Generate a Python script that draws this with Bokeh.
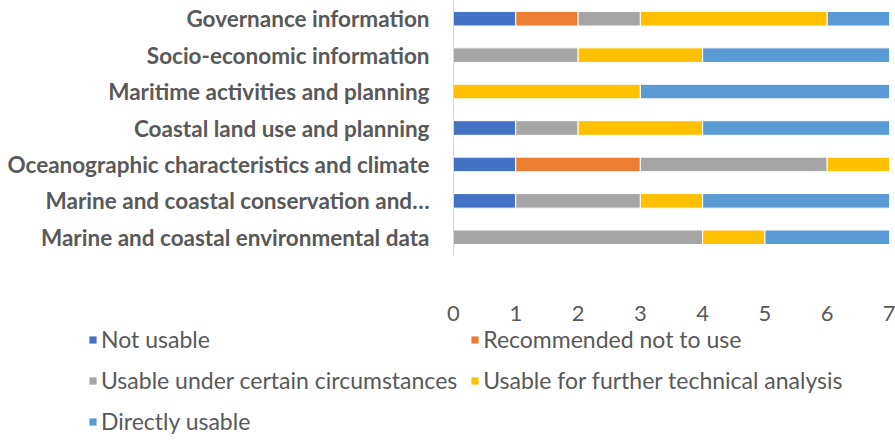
from bokeh.plotting import figure
from bokeh.layouts import column
from bokeh.models import Legend, LegendItem, FactorRange, ColumnDataSource, FixedTicker
from bokeh.embed import file_html
from bokeh.resources import INLINE

categories = [
    "Marine and coastal environmental data",
    "Marine and coastal conservation and…",
    "Oceanographic characteristics and climate",
    "Coastal land use and planning",
    "Maritime activities and planning",
    "Socio-economic information",
    "Governance information",
]
series = [
    "Not usable",
    "Recommended not to use",
    "Usable under certain circumstances",
    "Usable for further technical analysis",
    "Directly usable",
]
not_usable = [0, 1, 1, 1, 0, 0, 1]
recommended_not = [0, 0, 2, 0, 0, 0, 1]
usable_certain = [4, 2, 3, 1, 0, 2, 1]
usable_further = [1, 1, 1, 2, 3, 2, 3]
directly_usable = [2, 3, 0, 3, 4, 3, 1]
x_ticks = [0, 1, 2, 3, 4, 5, 6, 7]
colors = ["#4472C4", "#ED7D31", "#A5A5A5", "#FFC000", "#5B9BD5"]

source = ColumnDataSource(data={
    "cat": categories,
    series[0]: not_usable,
    series[1]: recommended_not,
    series[2]: usable_certain,
    series[3]: usable_further,
    series[4]: directly_usable,
})

FONT = "Lato"
TXT = "#595959"

# ---- main chart ----
p = figure(
    y_range=FactorRange(factors=categories, range_padding=0),
    x_range=(0, 7),
    frame_width=436, frame_height=255,
    min_border_left=453, min_border_right=6, min_border_top=0, min_border_bottom=71,
    output_backend="svg", toolbar_location=None,
)
p.frame_align = False
p.outline_line_color = None
p.background_fill_color = "white"

rs = p.hbar_stack(series, y="cat", height=0.4, color=colors, source=source,
                  line_color="white", line_width=1)

p.xgrid.grid_line_color = None
p.ygrid.grid_line_color = None

p.xaxis.ticker = FixedTicker(ticks=x_ticks)
p.xaxis.axis_line_color = None
p.xaxis.major_tick_line_color = None
p.xaxis.minor_tick_line_color = None
p.xaxis.major_label_text_font = FONT
p.xaxis.major_label_text_font_size = "22px"
p.xaxis.major_label_text_color = TXT
p.xaxis.major_label_standoff = 44

p.yaxis.axis_line_color = "#D9D9D9"
p.yaxis.axis_line_width = 1
p.yaxis.major_tick_line_color = None
p.yaxis.minor_tick_line_color = None
p.yaxis.major_label_text_font = FONT
p.yaxis.major_label_text_font_style = "bold"
p.yaxis.major_label_text_font_size = "22.5px"
p.yaxis.major_label_text_color = TXT
p.yaxis.major_label_standoff = 18

# ---- legend panel: its stack renderers map to no visible category ----
p2 = figure(
    width=895, height=114,
    y_range=FactorRange(factors=["legend"]), x_range=(0, 7),
    x_axis_location=None, y_axis_location=None,
    min_border_left=0, min_border_right=0, min_border_top=0, min_border_bottom=0,
    output_backend="svg", toolbar_location=None,
)
p2.frame_align = False
p2.outline_line_color = None
p2.xgrid.grid_line_color = None
p2.ygrid.grid_line_color = None
rs2 = p2.hbar_stack(series, y="cat", height=0.4, color=colors, source=source,
                    line_color=None)

items = [LegendItem(label=s, renderers=[r]) for s, r in zip(series, rs2)]
legend = Legend(items=items, orientation="horizontal", ncols=2, location=(88, 5),
                glyph_width=9, glyph_height=9, label_standoff=4,
                label_text_font=FONT, label_text_font_size="23px",
                label_text_color=TXT, label_height=22, spacing=13,
                padding=0, margin=0, border_line_color=None,
                background_fill_alpha=0)
p2.add_layout(legend, "center")

layout = column(p, p2, spacing=0)
open("out.html", "w").write(file_html(layout, INLINE))
